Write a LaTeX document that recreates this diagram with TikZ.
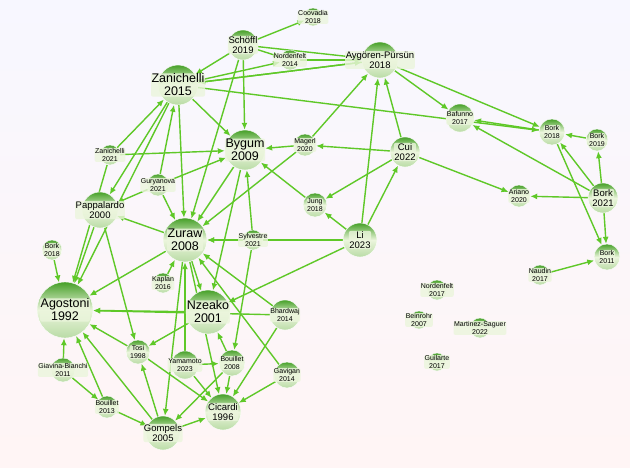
\documentclass[tikz,border=0pt]{standalone}
\usepackage{fontspec}
\setmainfont{Liberation Sans}
\usetikzlibrary{arrows.meta,backgrounds}
\definecolor{edgegreen}{RGB}{95,200,40}
\definecolor{nodegreen}{RGB}{70,160,40}
\definecolor{palegreen}{RGB}{235,245,220}
\tikzset{
  paper/.style={circle, inner sep=0pt, top color=nodegreen, bottom color=palegreen!70!nodegreen,
    middle color=palegreen, draw=white, line width=0.4pt,
    label={[tag]center:#1}},
  paper/.default={},
  tag/.style={align=center, text=black, fill=palegreen, fill opacity=0.8, text opacity=1,
    inner sep=0.6pt, rounded corners=2pt, font=\fontsize{7}{7.5}\selectfont},
  big/.style={label={[tag,font=\fontsize{12.5}{13}\selectfont]center:#1}},
  mid/.style={label={[tag,font=\fontsize{9.5}{10}\selectfont]center:#1}},
  cite/.style={-{Latex[length=7pt,width=6pt]}, edgegreen, line width=1.4pt},
}
\begin{document}
\begin{tikzpicture}[x=1pt,y=-1pt]
\useasboundingbox (0,0) rectangle (630,467);

% papers
\node[paper,minimum size=30pt,mid={Schöffl\\2019}] (schoffl) at (243,45) {};
\node[paper={Coovadia\\2018},minimum size=18pt] (coovadia) at (313,17) {};
\node[paper={Nordenfelt\\2014},minimum size=20pt] (norden14) at (290,60) {};
\node[paper,minimum size=36pt,mid={Aygören-Pürsün\\2018}] (aygoren) at (380,60) {};
\node[paper,minimum size=40pt,big={Zanichelli\\2015}] (zani15) at (178,85) {};
\node[paper={Bafunno\\2017},minimum size=28pt] (bafunno) at (460,118) {};
\node[paper={Bork\\2018},minimum size=26pt] (bork18) at (552,132) {};
\node[paper={Bork\\2019},minimum size=22pt] (bork19) at (597,140) {};
\node[paper,minimum size=40pt,big={Bygum\\2009}] (bygum) at (245,150) {};
\node[paper={Magerl\\2020},minimum size=22pt] (magerl) at (305,145) {};
\node[paper,minimum size=30pt,mid={Cui\\2022}] (cui) at (405,152) {};
\node[paper={Zanichelli\\2021},minimum size=20pt] (zani21) at (110,155) {};
\node[paper={Guryanova\\2021},minimum size=22pt] (gurya) at (158,185) {};
\node[paper,minimum size=36pt,mid={Pappalardo\\2000}] (pappa) at (100,210) {};
\node[paper,minimum size=44pt,big={Zuraw\\2008}] (zuraw) at (185,240) {};
\node[paper={Sylvestre\\2021},minimum size=20pt] (sylv) at (253,240) {};
\node[paper={Jung\\2018},minimum size=24pt] (jung) at (315,205) {};
\node[paper,minimum size=34pt,mid={Li\\2023}] (li) at (360,240) {};
\node[paper={Ariano\\2020},minimum size=22pt] (ariano) at (519,196) {};
\node[paper,minimum size=30pt,mid={Bork\\2021}] (bork21) at (603,198) {};
\node[paper={Bork\\2011},minimum size=26pt] (bork11) at (607,257) {};
\node[paper={Naudin\\2017},minimum size=20pt] (naudin) at (540,275) {};
\node[paper={Bork\\2018},minimum size=20pt] (bork18b) at (52,250) {};
\node[paper={Kaplan\\2016},minimum size=20pt] (kaplan) at (163,283) {};
\node[paper,minimum size=56pt,big={Agostoni\\1992}] (agost) at (65,310) {};
\node[paper,minimum size=44pt,big={Nzeako\\2001}] (nzeako) at (208,312) {};
\node[paper={Bhardwaj\\2014},minimum size=30pt] (bhard) at (285,315) {};
\node[paper={Nordenfelt\\2017},minimum size=20pt] (norden17) at (437,290) {};
\node[paper={Beinrohr\\2007},minimum size=18pt] (beinrohr) at (419,320) {};
\node[paper={Martinez-Saguer\\2022},minimum size=20pt] (martinez) at (480,328) {};
\node[paper={Guilarte\\2017},minimum size=18pt] (guilarte) at (437,362) {};
\node[paper={Tosi\\1998},minimum size=24pt] (tosi) at (138,352) {};
\node[paper={Yamamoto\\2023},minimum size=28pt] (yama) at (185,365) {};
\node[paper={Bouillet\\2008},minimum size=26pt] (bouil08) at (232,363) {};
\node[paper={Gavigan\\2014},minimum size=26pt] (gavigan) at (287,375) {};
\node[paper={Giavina-Bianchi\\2011},minimum size=24pt] (giavina) at (63,370) {};
\node[paper={Bouillet\\2013},minimum size=22pt] (bouil13) at (107,407) {};
\node[paper,minimum size=36pt,mid={Cicardi\\1996}] (cicardi) at (223,412) {};
\node[paper,minimum size=34pt,mid={Gompels\\2005}] (gompels) at (163,433) {};

% citations, under the papers
\begin{scope}[on background layer]
\fill[top color=blue!3, bottom color=red!4] (0,0) rectangle (630,467);
\foreach \a/\b in {schoffl/coovadia, schoffl/norden14, schoffl/aygoren, schoffl/zani15,
  schoffl/bygum, schoffl/zuraw, zani15/norden14, zani15/aygoren, norden14/aygoren,
  zani15/bygum, zani15/bork18, zani15/pappa, zani15/zuraw, zani15/agost,
  zani21/zani15, zani21/bygum, zani21/agost, gurya/zani15, gurya/pappa, gurya/zuraw,
  gurya/bygum, pappa/agost, pappa/tosi, zuraw/pappa, zuraw/agost, zuraw/nzeako,
  zuraw/cicardi, zuraw/gompels, bygum/zuraw, bygum/nzeako, sylv/bygum, jung/bygum,
  magerl/bygum, magerl/aygoren, magerl/zuraw, cui/aygoren, cui/jung, cui/ariano,
  cui/magerl, li/cui, li/aygoren, li/jung, li/zuraw, li/nzeako, aygoren/bafunno,
  aygoren/bork18, aygoren/zani15, bork18/bafunno, bork19/bork18, bork21/bork19,
  bork21/bork18, bork21/bafunno, bork21/ariano, bork21/bork11, bork18/bork11,
  naudin/bork11, bork18b/agost, kaplan/zuraw, nzeako/agost, nzeako/tosi, tosi/agost,
  giavina/agost, bouil13/agost, gompels/agost, gompels/tosi, gompels/cicardi,
  yama/zuraw, yama/bouil08, yama/cicardi, bouil08/cicardi, bouil08/gompels,
  bouil08/nzeako, gavigan/cicardi, gavigan/zuraw, bhard/cicardi, bhard/zuraw,
  bhard/agost, sylv/zuraw, sylv/bouil08, giavina/bouil13, bouil13/gompels, tosi/cicardi}
  \draw[cite] (\a) -- (\b);
\end{scope}
\end{tikzpicture}
\end{document}
